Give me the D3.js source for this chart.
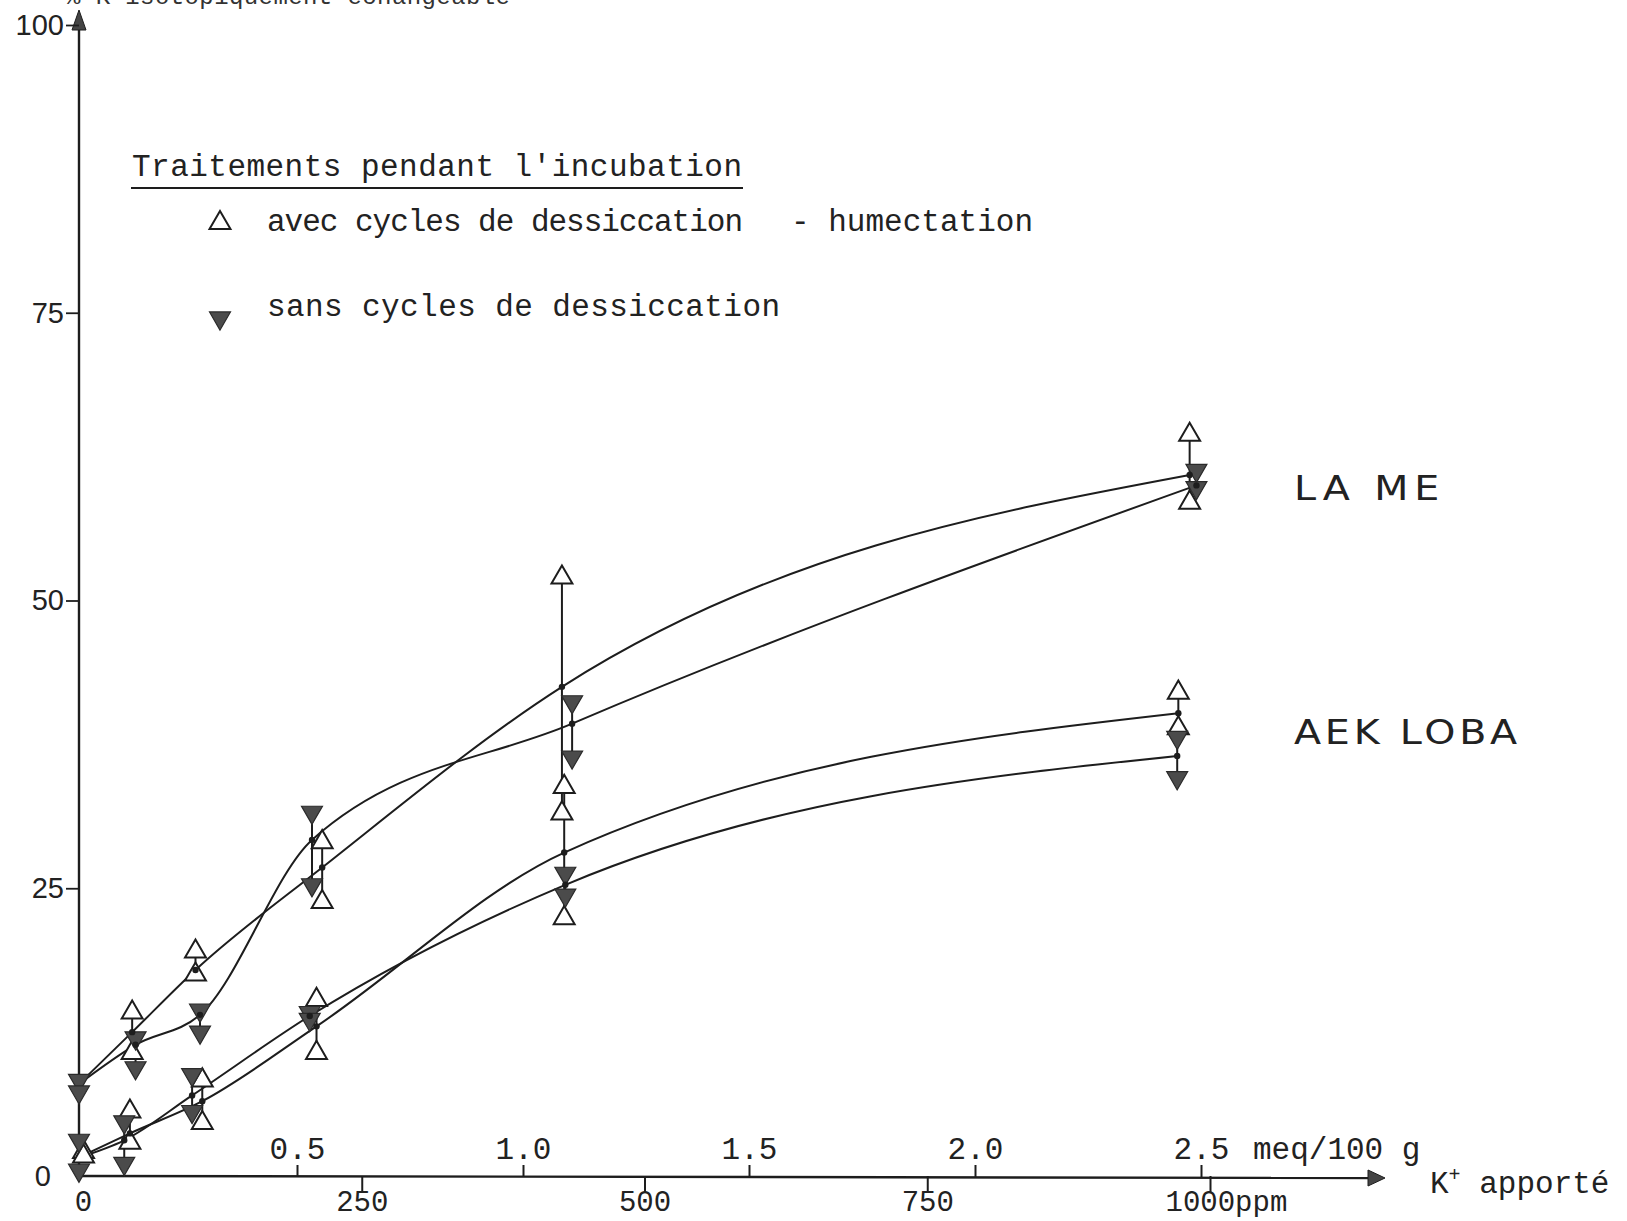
<!DOCTYPE html>
<html>
<head>
<meta charset="utf-8">
<script src="https://cdn.jsdelivr.net/npm/d3@7"></script>
<style>
  html, body { margin: 0; padding: 0; background: #fff; }
  svg { display: block; }
</style>
</head>
<body>
<svg id="chart" width="1627" height="1221"></svg>
<script>
// ---- data: % of added K found isotopically exchangeable vs K+ added (ppm) ----
// LA ME, with drying-wetting cycles (open triangles)
const laMeAvecPpm  = [0, 47, 103, 215, 427, 982];
const laMeAvecMean = [8.0, 12.5, 17.9, 26.8, 42.5, 60.9];
const laMeAvecReps = [[], [14.2, 10.7], [19.5, 17.5], [29.0, 23.8], [52.0, 31.5], [64.4, 58.5]];

// LA ME, without cycles (filled triangles)
const laMeSansPpm  = [0, 50, 107, 206, 436, 988];
const laMeSansMean = [8.0, 11.4, 14.0, 29.2, 39.3, 60.0];
const laMeSansReps = [[8.3, 7.3], [12.0, 9.4], [14.4, 12.5], [31.6, 25.3], [41.2, 36.4], [61.3, 59.8]];

// AEK LOBA, with drying-wetting cycles
const aekAvecPpm  = [4, 45, 109, 210, 429, 972];
const aekAvecMean = [1.8, 3.7, 6.5, 13.0, 28.1, 40.2];
const aekAvecReps = [[2.1, 1.7], [5.6, 2.9], [8.3, 4.6], [15.3, 10.7], [33.8, 22.4], [42.0, 38.9]];

// AEK LOBA, without cycles
const aekSansPpm  = [0, 40, 100, 204, 430, 971];
const aekSansMean = [1.6, 3.1, 7.0, 13.9, 25.3, 36.5];
const aekSansReps = [[3.1, 0.5], [4.7, 1.1], [8.8, 5.6], [14.2, 13.6], [26.3, 24.4], [38.1, 34.6]];

// axis ticks
const yTickValues   = [0, 25, 50, 75, 100];
const ppmTickValues = [0, 250, 500, 750, 1000];
const ppmTickLabels = ["0", "250", "500", "750", "1000ppm"];
const meqTickValues = [0.5, 1.0, 1.5, 2.0, 2.5];
const meqTickLabels = ["0.5", "1.0", "1.5", "2.0", "2.5"];

// ---- drawing ----
const svg = d3.select("#chart");
const ink = "#1d1d1d";
const mono = "'Liberation Mono', 'DejaVu Sans Mono', monospace";
const sans = "'Liberation Sans', Arial, sans-serif";
const geo = "'DejaVu Sans', 'Liberation Sans', sans-serif";

svg.append("rect").attr("width", 1627).attr("height", 1221).attr("fill", "#fff");

const x    = d3.scaleLinear().domain([0, 1000]).range([79, 1210]);
const xMeq = d3.scaleLinear().domain([0, 2.5]).range([71, 1201]);
const y    = d3.scaleLinear().domain([0, 100]).range([1176, 25]);

const y0 = y(0);

// axis title running off the top edge
svg.append("text")
  .attr("x", 66).attr("y", 4)
  .attr("font-family", mono).attr("font-size", 24).attr("fill", "#333")
  .attr("textLength", 444).attr("lengthAdjust", "spacing")
  .text("% K isotopiquement échangeable");

// y axis line with arrow head
svg.append("line")
  .attr("x1", x(0)).attr("x2", x(0))
  .attr("y1", y0).attr("y2", y(100) - 8)
  .attr("stroke", ink).attr("stroke-width", 2.4);
svg.append("path")
  .attr("d", `M${x(0)},${y(100) - 15} L${x(0) - 7},${y(100) + 5} L${x(0) + 7},${y(100) + 5} Z`)
  .attr("fill", "#444").attr("stroke", ink).attr("stroke-width", 1);

// y ticks and labels
const yAxis = svg.append("g")
  .attr("transform", `translate(${x(0)},0)`)
  .call(d3.axisLeft(y).tickValues(yTickValues).tickSize(13).tickPadding(2).tickFormat(d3.format("d")));
yAxis.select(".domain").remove();
yAxis.selectAll("line").attr("stroke", ink).attr("stroke-width", 1.8);
yAxis.selectAll("text")
  .attr("font-family", sans).attr("font-size", 29).attr("fill", "#222");
yAxis.selectAll(".tick").filter(d => d === 0).select("line").remove();
yAxis.selectAll(".tick").filter(d => d === 0).select("text").attr("x", -28);

// x axis line with arrow head
const xEnd = x.range()[1] + 175;
svg.append("line")
  .attr("x1", x(0)).attr("x2", xEnd - 10)
  .attr("y1", y0).attr("y2", y0 + 2)
  .attr("stroke", ink).attr("stroke-width", 2.4);
svg.append("path")
  .attr("d", `M${xEnd},${y0 + 2} L${xEnd - 17},${y0 - 6} L${xEnd - 17},${y0 + 10} Z`)
  .attr("fill", "#444").attr("stroke", ink).attr("stroke-width", 1);

// ppm scale below the axis
const ppmAxis = svg.append("g")
  .attr("transform", `translate(0,${y0})`)
  .call(d3.axisBottom(x).tickValues(ppmTickValues).tickSize(16)
    .tickFormat((d, i) => ppmTickLabels[i]));
ppmAxis.select(".domain").remove();
ppmAxis.selectAll("line").attr("stroke", ink).attr("stroke-width", 2);
ppmAxis.selectAll(".tick").filter(d => d === 0).select("line").remove();
ppmAxis.selectAll("text")
  .attr("font-family", mono).attr("font-size", 29).attr("fill", "#222")
  .attr("y", 35).attr("dy", 0);
ppmAxis.selectAll(".tick").filter(d => d === 0).select("text").attr("x", 4);
ppmAxis.selectAll(".tick").filter(d => d === 1000).select("text")
  .attr("text-anchor", "start").attr("x", -45);

// meq/100 g scale above the axis
const meqAxis = svg.append("g")
  .attr("transform", `translate(0,${y0 + 1})`)
  .call(d3.axisTop(xMeq).tickValues(meqTickValues).tickSize(12)
    .tickFormat((d, i) => meqTickLabels[i]));
meqAxis.select(".domain").remove();
meqAxis.selectAll("line").attr("stroke", ink).attr("stroke-width", 2);
meqAxis.selectAll("text")
  .attr("font-family", mono).attr("font-size", 31).attr("fill", "#222")
  .attr("y", -18).attr("dy", 0);

svg.append("text")
  .attr("x", xMeq(2.5) + 52).attr("y", y0 - 17)
  .attr("font-family", mono).attr("font-size", 31).attr("fill", "#222")
  .text("meq/100 g");

const kLabel = svg.append("text")
  .attr("x", xEnd + 45).attr("y", y0 + 17)
  .attr("font-family", mono).attr("font-size", 31).attr("fill", "#222");
kLabel.append("tspan").text("K");
kLabel.append("tspan").attr("font-size", 20).attr("dy", -12).text("+");
kLabel.append("tspan").attr("dy", 12).text(" apporté");

// series
const series = [
  { ppm: laMeAvecPpm, mean: laMeAvecMean, reps: laMeAvecReps, filled: false },
  { ppm: laMeSansPpm, mean: laMeSansMean, reps: laMeSansReps, filled: true },
  { ppm: aekAvecPpm,  mean: aekAvecMean,  reps: aekAvecReps,  filled: false },
  { ppm: aekSansPpm,  mean: aekSansMean,  reps: aekSansReps,  filled: true }
].map(s => ({
  filled: s.filled,
  pts: s.ppm.map((p, i) => ({ p, m: s.mean[i], reps: s.reps[i] }))
}));

const line = d3.line()
  .x(d => x(d.p)).y(d => y(d.m))
  .curve(d3.curveMonotoneX);

const gCurves = svg.append("g");
series.forEach(s => {
  gCurves.append("path")
    .attr("d", line(s.pts))
    .attr("fill", "none").attr("stroke", ink).attr("stroke-width", 2);
});

// replicate ranges
const gRanges = svg.append("g");
series.forEach(s => {
  gRanges.selectAll(null)
    .data(s.pts.filter(d => d.reps.length > 1))
    .join("line")
    .attr("x1", d => x(d.p)).attr("x2", d => x(d.p))
    .attr("y1", d => y(d3.max(d.reps))).attr("y2", d => y(d3.min(d.reps)))
    .attr("stroke", ink).attr("stroke-width", 2);
});

const triUp = d3.symbol(d3.symbolTriangle, 190)();
const openTri = (sel) => sel
  .attr("d", triUp)
  .attr("fill", "#fff").attr("stroke", ink).attr("stroke-width", 2);
const filledTri = (sel) => sel
  .attr("d", triUp)
  .attr("fill", "#4b4b4b").attr("stroke", "#2a2a2a").attr("stroke-width", 1.2);

// replicate markers: open first, filled above
const gMarks = svg.append("g");
[false, true].forEach(fill => {
  series.filter(s => s.filled === fill).forEach(s => {
    const reps = s.pts.flatMap(d => d.reps.map(v => ({ p: d.p, v })));
    gMarks.selectAll(null)
      .data(reps)
      .join("path")
      .attr("transform", d => `translate(${x(d.p)},${y(d.v)})` + (fill ? " rotate(180)" : ""))
      .call(fill ? filledTri : openTri);
  });
});

// mean points on the curves
series.forEach(s => {
  svg.append("g").selectAll("circle")
    .data(s.pts.slice(1))
    .join("circle")
    .attr("cx", d => x(d.p)).attr("cy", d => y(d.m)).attr("r", 3.2)
    .attr("fill", ink);
});

// legend
svg.append("text")
  .attr("x", 132).attr("y", 176)
  .attr("font-family", mono).attr("font-size", 31).attr("fill", "#222")
  .attr("textLength", 610).attr("lengthAdjust", "spacing")
  .text("Traitements pendant l'incubation");
svg.append("line")
  .attr("x1", 131).attr("x2", 743).attr("y1", 188).attr("y2", 188)
  .attr("stroke", ink).attr("stroke-width", 2);

svg.append("path").attr("transform", "translate(220,223)").call(openTri);
svg.append("text")
  .attr("x", 267).attr("y", 231)
  .attr("font-family", mono).attr("font-size", 31).attr("fill", "#222")
  .attr("textLength", 476).attr("lengthAdjust", "spacing")
  .text("avec cycles de dessiccation");
svg.append("text")
  .attr("x", 791).attr("y", 231)
  .attr("font-family", mono).attr("font-size", 31).attr("fill", "#222")
  .attr("textLength", 242).attr("lengthAdjust", "spacing")
  .text("- humectation");

svg.append("path").attr("transform", "translate(220,318) rotate(180)").call(filledTri);
svg.append("text")
  .attr("x", 267).attr("y", 316)
  .attr("font-family", mono).attr("font-size", 31).attr("fill", "#222")
  .attr("textLength", 513).attr("lengthAdjust", "spacing")
  .text("sans cycles de dessiccation");

// soil names, in a wide lettering
svg.append("text")
  .attr("transform", "translate(1294,500) scale(1.2,1)")
  .attr("font-family", geo).attr("font-size", 33).attr("fill", "#222")
  .attr("textLength", 121).attr("lengthAdjust", "spacing")
  .text("LA ME");
svg.append("text")
  .attr("transform", "translate(1294,744) scale(1.2,1)")
  .attr("font-family", geo).attr("font-size", 33).attr("fill", "#222")
  .attr("textLength", 186).attr("lengthAdjust", "spacing")
  .text("AEK LOBA");
</script>
</body>
</html>
